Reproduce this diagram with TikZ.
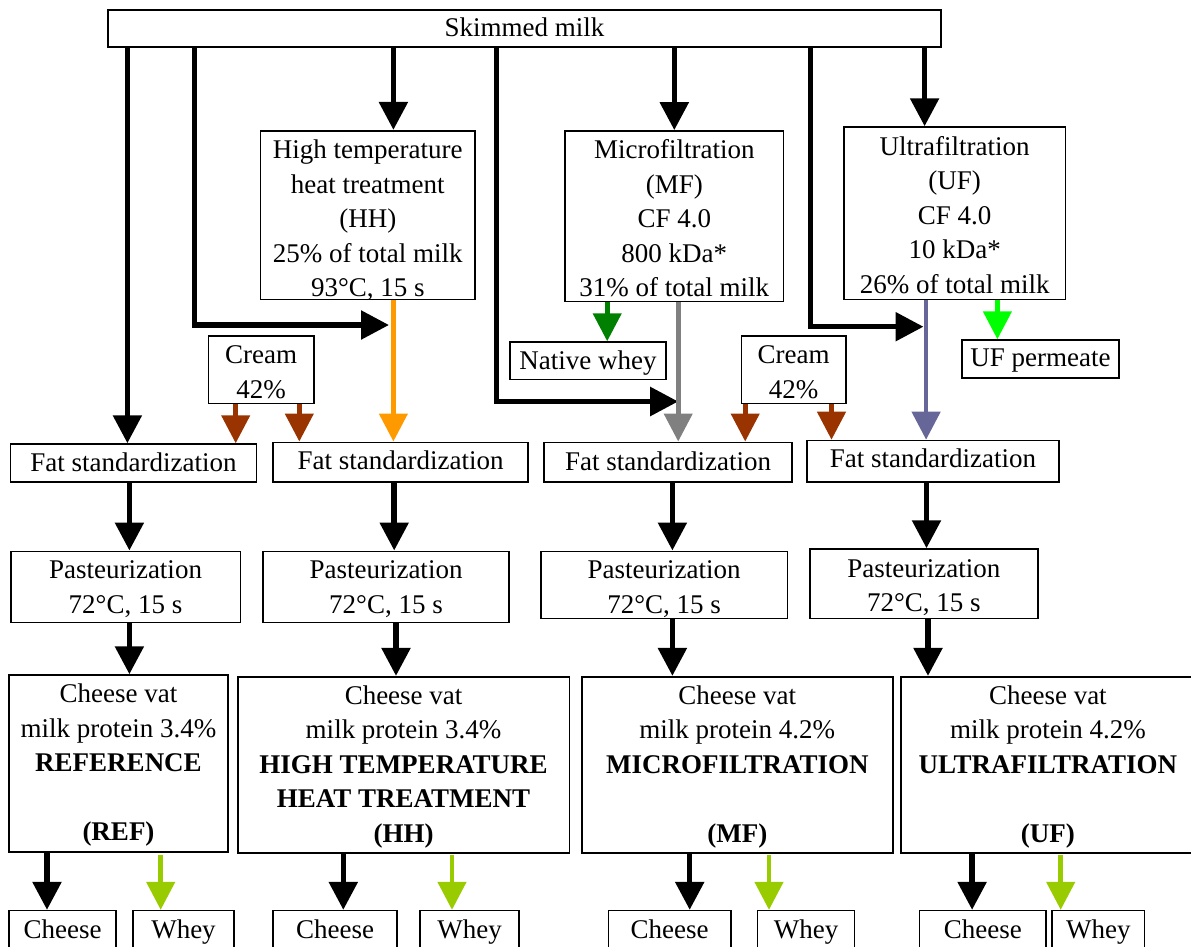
\documentclass[tikz,border=0pt]{standalone}
\usepackage{fontspec}
\setmainfont{Liberation Serif}
\usetikzlibrary{arrows.meta}

\definecolor{heatorange}{RGB}{255,153,0}
\definecolor{creambrown}{RGB}{153,51,0}
\definecolor{nativegreen}{RGB}{0,128,0}
\definecolor{mfgrey}{RGB}{128,128,128}
\definecolor{ufpurple}{RGB}{102,102,153}
\definecolor{permgreen}{RGB}{0,255,0}
\definecolor{wheygreen}{RGB}{153,204,0}

% centred stack of lines whose baseline is the last line
\newcommand\boxtext[1]{\begin{tabular}[b]{@{}c@{}}#1\end{tabular}}

\begin{document}
\begin{tikzpicture}[x=1pt,y=-1pt,
  box/.style={draw, line width=1.6pt, inner sep=0pt,
    font=\fontsize{27}{34.5}\selectfont},
  % last baseline sits #1/2 below the box centre
  tb/.style={text height=#1, text depth=0pt},
  flow/.style={line width=5.5pt, -{Triangle[length=28pt,width=28pt]}},
  cflow/.style={line width=4.6pt, draw=#1, -{Triangle[length=28pt,width=28pt,color=#1]}}]

\useasboundingbox (0,0) rectangle (1191,946);
\clip (0,0) rectangle (1191,946);

% source
\node[box, tb=16.4pt, minimum width=833pt, minimum height=37pt] (skim) at (524.5,28.5) {Skimmed milk};

% treatments
\node[box, tb=163pt, minimum width=214.4pt, minimum height=168.6pt] (hh) at (367.8,215)
  {\boxtext{High temperature\\heat treatment\\(HH)\\25\% of total milk\\93°C, 15 s}};
\node[box, tb=160.8pt, minimum width=218.6pt, minimum height=170.7pt] (mf) at (674.3,216.3)
  {\boxtext{Microfiltration\\(MF)\\CF 4.0\\800 kDa*\\31\% of total milk}};
\node[box, tb=160.2pt, minimum width=221.3pt, minimum height=172.3pt] (uf) at (954.7,213.2)
  {\boxtext{Ultrafiltration\\(UF)\\CF 4.0\\10 kDa*\\26\% of total milk}};

% side streams
\node[box, tb=57.2pt, minimum width=105.2pt, minimum height=67.3pt] (cream1) at (261.2,369.7) {\boxtext{Cream\\42\%}};
\node[box, tb=17.2pt, minimum width=156pt, minimum height=37.3pt] (nwhey) at (588,360.7) {Native whey};
\node[box, tb=57.2pt, minimum width=104.6pt, minimum height=67.3pt] (cream2) at (793.7,369.7) {\boxtext{Cream\\42\%}};
\node[box, tb=15.6pt, minimum width=157.5pt, minimum height=37.7pt] (ufperm) at (1040.5,358.9) {UF permeate};

% fat standardization
\node[box, tb=17.6pt, minimum width=245.7pt, minimum height=37.7pt] (fat1) at (133.5,462.9) {Fat standardization};
\node[box, tb=14.6pt, minimum width=254.8pt, minimum height=39.4pt] (fat2) at (400.6,462) {Fat standardization};
\node[box, tb=16pt, minimum width=247.8pt, minimum height=39.4pt] (fat3) at (668.1,462) {Fat standardization};
\node[box, tb=12.4pt, minimum width=251.8pt, minimum height=41.2pt] (fat4) at (932.9,461.1) {Fat standardization};

% pasteurization
\node[box, tb=53pt, minimum width=229.6pt, minimum height=71pt] (past1) at (125.5,586.8) {\boxtext{Pasteurization\\72°C, 15 s}};
\node[box, tb=53pt, minimum width=246pt, minimum height=71pt] (past2) at (386,586.8) {\boxtext{Pasteurization\\72°C, 15 s}};
\node[box, tb=57pt, minimum width=246.4pt, minimum height=67pt] (past3) at (664.2,584.8) {\boxtext{Pasteurization\\72°C, 15 s}};
\node[box, tb=56pt, minimum width=227.7pt, minimum height=69.3pt] (past4) at (923.9,583.7) {\boxtext{Pasteurization\\72°C, 15 s}};

% cheese vats
\node[box, tb=154.6pt, minimum width=218.5pt, minimum height=176.7pt] (vat1) at (118.5,763.4)
  {\boxtext{Cheese vat\\milk protein 3.4\%\\\textbf{REFERENCE}\\ \\\textbf{(REF)}}};
\node[box, tb=155.2pt, minimum width=331.8pt, minimum height=176pt] (vat2) at (403.6,764.7)
  {\boxtext{Cheese vat\\milk protein 3.4\%\\\textbf{HIGH TEMPERATURE}\\\textbf{HEAT TREATMENT}\\\textbf{(HH)}}};
\node[box, tb=155.2pt, minimum width=311.1pt, minimum height=176pt] (vat3) at (737.3,764.7)
  {\boxtext{Cheese vat\\milk protein 4.2\%\\\textbf{MICROFILTRATION}\\ \\\textbf{(MF)}}};
\node[box, tb=155.2pt, minimum width=294.2pt, minimum height=176pt] (vat4) at (1047.9,764.7)
  {\boxtext{Cheese vat\\milk protein 4.2\%\\\textbf{ULTRAFILTRATION}\\ \\\textbf{(UF)}}};

% products
\tikzset{prod/.style={box, tb=18.4pt, minimum height=36.9pt}}
\node[prod, minimum width=106.8pt] (cheese1) at (62.6,929.1) {Cheese};
\node[prod, minimum width=100.6pt] (whey1) at (183.5,929.1) {Whey};
\node[prod, minimum width=124pt] (cheese2) at (335.2,929.1) {Cheese};
\node[prod, minimum width=98.8pt] (whey2) at (469.6,929.1) {Whey};
\node[prod, minimum width=122.6pt] (cheese3) at (669.7,929.1) {Cheese};
\node[prod, minimum width=97pt] (whey3) at (806,929.1) {Whey};
\node[prod, minimum width=126.4pt] (cheese4) at (982.8,929.1) {Cheese};
\node[prod, minimum width=92.7pt] (whey4) at (1098.3,929.1) {Whey};

% vertical lanes
\coordinate (xref) at (127.4,0);
\coordinate (xhhb) at (194.4,0);
\coordinate (xhh) at (393.4,0);
\coordinate (xmfb) at (496.4,0);
\coordinate (xmf) at (674.3,0);
\coordinate (xmfo) at (678.2,0);
\coordinate (xufb) at (810.4,0);
\coordinate (xuf) at (924.6,0);
\coordinate (xufo) at (926.1,0);
\coordinate (hhjoin) at (389,325);
\coordinate (mfjoin) at (678.2,401.5);
\coordinate (ufjoin) at (923.5,326.7);

% skimmed milk distribution
\draw[flow] (xref |- skim.south) -- (xref |- fat1.north);
\draw[flow] (xhhb |- skim.south) |- (hhjoin);
\draw[flow] (xhh |- skim.south) -- (xhh |- hh.north);
\draw[flow] (xmfb |- skim.south) |- (mfjoin);
\draw[flow] (xmf |- skim.south) -- (xmf |- mf.north);
\draw[flow] (xufb |- skim.south) |- (ufjoin);
\draw[flow] (xuf |- skim.south) -- (xuf |- uf.north);

% treated streams
\draw[cflow=heatorange] (xhh |- hh.south) -- (xhh |- fat2.north);
\draw[cflow=mfgrey] (xmfo |- mf.south) -- (xmfo |- fat3.north);
\draw[cflow=ufpurple] (xufo |- uf.south) -- (xufo |- fat4.north);
\draw[cflow=nativegreen] (607.2,0 |- mf.south) -- (607.2,0 |- nwhey.north);
\draw[cflow=permgreen] (997.4,0 |- uf.south) -- (997.4,0 |- ufperm.north);

% cream additions
\draw[cflow=creambrown] (235.7,0 |- cream1.south) -- (235.7,0 |- fat1.north);
\draw[cflow=creambrown] (299.3,0 |- cream1.south) -- (299.3,0 |- fat2.north);
\draw[cflow=creambrown] (745.2,0 |- cream2.south) -- (745.2,0 |- fat3.north);
\draw[cflow=creambrown] (831.5,0 |- cream2.south) -- (831.5,0 |- fat4.north);

% processing chains
\draw[flow] (129.4,0 |- fat1.south) -- (129.4,0 |- past1.north);
\draw[flow] (129.4,0 |- past1.south) -- (129.4,0 |- vat1.north);
\draw[flow] (394.2,0 |- fat2.south) -- (394.2,0 |- past2.north);
\draw[flow] (396,0 |- past2.south) -- (396,0 |- vat2.north);
\draw[flow] (672.4,0 |- fat3.south) -- (672.4,0 |- past3.north);
\draw[flow] (672.4,0 |- past3.south) -- (672.4,0 |- vat3.north);
\draw[flow] (926.5,0 |- fat4.south) -- (926.5,0 |- past4.north);
\draw[flow] (928,0 |- past4.south) -- (928,0 |- vat4.north);

% products
\draw[flow] (47,0 |- vat1.south) -- (47,0 |- cheese1.north);
\draw[cflow=wheygreen] (160.7,855) -- (160.7,0 |- whey1.north);
\draw[flow] (343.3,0 |- vat2.south) -- (343.3,0 |- cheese2.north);
\draw[cflow=wheygreen] (452,855) -- (452,0 |- whey2.north);
\draw[flow] (689.7,0 |- vat3.south) -- (689.7,0 |- cheese3.north);
\draw[cflow=wheygreen] (769,855) -- (769,0 |- whey3.north);
\draw[flow] (972.1,0 |- vat4.south) -- (972.1,0 |- cheese4.north);
\draw[cflow=wheygreen] (1060.7,855) -- (1060.7,0 |- whey4.north);
\end{tikzpicture}
\end{document}
